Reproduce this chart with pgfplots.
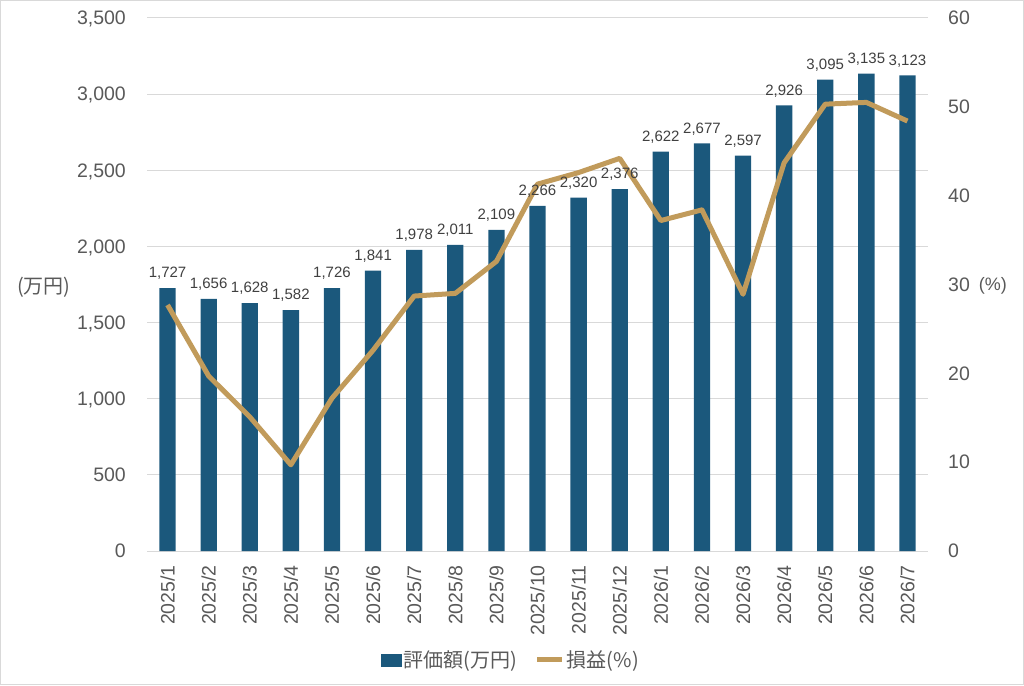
\documentclass[border=0pt]{standalone}
\usepackage{pgfplots}
\pgfplotsset{compat=1.18}
\usepackage{fontspec}
\setmainfont{Liberation Sans}
\newfontfamily\jp{Noto Sans CJK JP}
\definecolor{barcol}{HTML}{1B587C}
\definecolor{linecol}{HTML}{C19B5B}
\definecolor{gridcol}{HTML}{D9D9D9}
\definecolor{textcol}{HTML}{595959}
\definecolor{labcol}{HTML}{404040}
\pgfplotstableread{
x val pct
0 1727 27.7
1 1656 19.7
2 1628 15.1
3 1582 9.7
4 1726 17.2
5 1841 22.6
6 1978 28.7
7 2011 29.0
8 2109 32.6
9 2266 41.3
10 2320 42.6
11 2376 44.2
12 2622 37.2
13 2677 38.4
14 2597 28.9
15 2926 43.7
16 3095 50.3
17 3135 50.5
18 3123 48.4
}\datatable
\begin{document}
\begin{tikzpicture}[x=1pt,y=1pt]
\useasboundingbox (0,0) rectangle (1024,685);
\draw[gridcol, line width=1.2pt] (0.6,0.6) rectangle (1023.4,684.4);
\begin{axis}[
  at={(147pt,134pt)}, anchor=south west,
  scale only axis, width=781pt, height=533pt,
  xmin=-0.5, xmax=18.5, ymin=0, ymax=3500,
  ytick={0,500,...,3500},
  xtick={0,...,18},
  xticklabels={2025/1,2025/2,2025/3,2025/4,2025/5,2025/6,2025/7,2025/8,2025/9,2025/10,2025/11,2025/12,2026/1,2026/2,2026/3,2026/4,2026/5,2026/6,2026/7},
  axis line style={draw=none},
  major tick length=0pt,
  ymajorgrids,
  grid style={gridcol, line width=1pt},
  /pgf/number format/1000 sep={,},
  /pgf/number format/assume math mode=true,
  yticklabel style={font=\fontsize{19.5}{20}\selectfont, text=textcol, inner sep=0pt, anchor=east, text depth=0pt, xshift=-21pt},
  xticklabel style={font=\fontsize{19.5}{20}\selectfont, text=textcol, inner sep=0pt, yshift=-14pt, rotate=90, anchor=east},
  ylabel={\jp (万円)},
  ylabel style={rotate=-90, at={(axis description cs:-0.132,0.495)}, anchor=center, font=\fontsize{20}{20}\selectfont, text=textcol},
  ybar, bar width=16.3pt,
]
\addplot[fill=barcol, draw=none] table[x=x, y=val] {\datatable};
\end{axis}
\begin{axis}[
  at={(147pt,134pt)}, anchor=south west,
  scale only axis, width=781pt, height=533pt,
  xmin=-0.5, xmax=18.5, ymin=0, ymax=60,
  ytick={0,10,...,60},
  xtick=\empty,
  yticklabel pos=right,
  axis line style={draw=none},
  major tick length=0pt,
  /pgf/number format/assume math mode=true,
  yticklabel style={font=\fontsize{19.5}{20}\selectfont, text=textcol, inner sep=0pt, anchor=west, text depth=0pt, xshift=20pt},
  ylabel={(\%)},
  ylabel style={rotate=-90, at={(axis description cs:1.083,0.497)}, anchor=center, font=\fontsize{18}{20}\selectfont, text=textcol},
  legend style={at={(axis description cs:0.466,-0.2045)}, anchor=center, draw=none, fill=none,
    font=\jp\fontsize{20}{20}\selectfont, text=textcol,
    /tikz/every even column/.append style={column sep=16pt},
    nodes={inner sep=2pt}},
  legend columns=-1,
]
\addlegendimage{legend image code/.code={\fill[barcol] (0pt,-6pt) rectangle (20pt,6pt);}}
\addlegendentry{評価額(万円)}
\addplot[linecol, line width=5pt, line join=round, mark=none,
  legend image code/.code={\draw[linecol, line width=5pt] (0pt,0pt) -- (25pt,0pt);}]
  table[x=x, y=pct] {\datatable};
\addlegendentry{損益(\%)}
\end{axis}
\begin{axis}[
  at={(147pt,134pt)}, anchor=south west,
  scale only axis, width=781pt, height=533pt,
  xmin=-0.5, xmax=18.5, ymin=0, ymax=3500,
  hide axis,
  /pgf/number format/1000 sep={,},
  /pgf/number format/assume math mode=true,
  ybar, bar width=16.3pt,
  nodes near coords,
  nodes near coords style={font=\fontsize{15}{15}\selectfont, text=labcol, inner sep=0pt, text depth=0pt, anchor=south, yshift=10pt},
]
\addplot[draw=none, fill=none] table[x=x, y=val] {\datatable};
\end{axis}
\end{tikzpicture}
\end{document}
